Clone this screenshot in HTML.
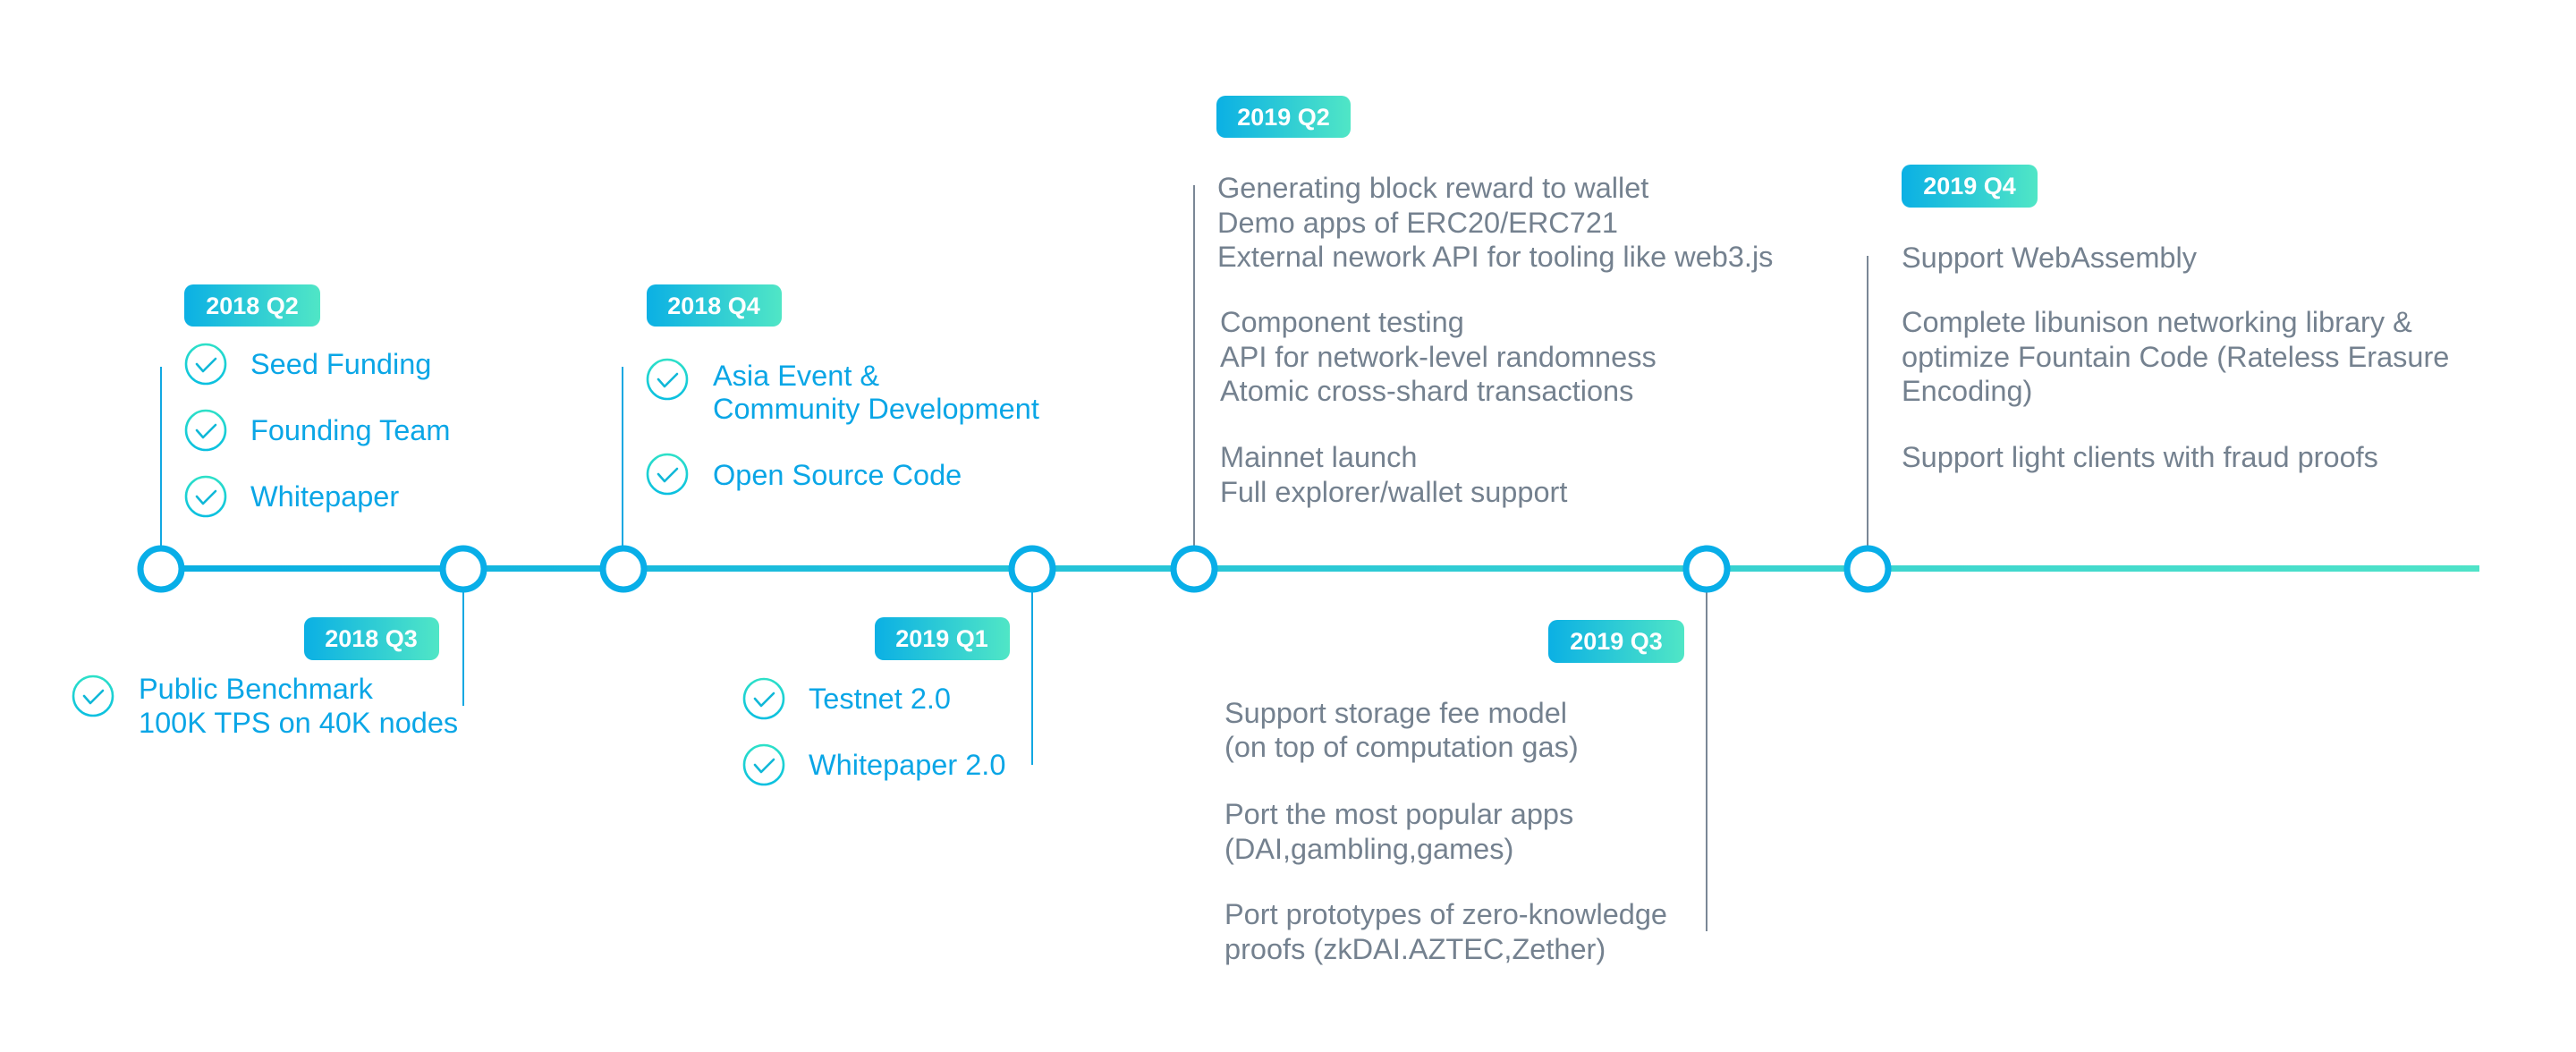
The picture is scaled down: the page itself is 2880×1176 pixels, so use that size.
<!DOCTYPE html>
<html><head><meta charset="utf-8"><style>
html,body{margin:0;padding:0;background:#fff;}
svg{display:block}
.b{font-family:"Liberation Sans",sans-serif;font-size:32.5px;fill:#0aa6e6;}
.g{font-family:"Liberation Sans",sans-serif;font-size:32.5px;fill:#74818f;}
.t{font-family:"Liberation Sans",sans-serif;font-size:27px;font-weight:bold;fill:#fff;}
</style></head><body>
<svg width="2880" height="1176" viewBox="0 0 2880 1176" xmlns="http://www.w3.org/2000/svg">
<defs>
<linearGradient id="lg" x1="156" y1="0" x2="2772" y2="0" gradientUnits="userSpaceOnUse">
<stop offset="0" stop-color="#08aee3"/><stop offset="1" stop-color="#4fe3c8"/></linearGradient>
<linearGradient id="bg" x1="0" y1="0" x2="1" y2="0">
<stop offset="0" stop-color="#0bb0e4"/><stop offset="1" stop-color="#50e6c6"/></linearGradient>
<linearGradient id="cg" x1="0" y1="0" x2="0" y2="1">
<stop offset="0" stop-color="#2de0c8"/><stop offset="1" stop-color="#0bc0e0"/></linearGradient>
<g id="ck"><circle r="22" fill="none" stroke="url(#cg)" stroke-width="2.6"/><path d="M-10 0 L-3 8 L11 -6" fill="none" stroke="#10b8d8" stroke-width="2.6" stroke-linecap="round" stroke-linejoin="round"/></g>
</defs>
<rect x="156" y="632" width="2616" height="7" fill="url(#lg)"/>
<g stroke="#12a8e2" stroke-width="2">
<line x1="180" y1="410" x2="180" y2="612"/>
<line x1="696" y1="410" x2="696" y2="612"/>
<line x1="518" y1="660" x2="518" y2="789"/>
<line x1="1154" y1="660" x2="1154" y2="855"/>
</g>
<g stroke="#7a8796" stroke-width="2">
<line x1="1335" y1="207" x2="1335" y2="612"/>
<line x1="1908" y1="660" x2="1908" y2="1041"/>
<line x1="2088" y1="286" x2="2088" y2="612"/>
</g>
<g fill="#fff" stroke="#08aee8" stroke-width="7">
<circle cx="180" cy="636" r="23"/><circle cx="518" cy="636" r="23"/><circle cx="697" cy="636" r="23"/>
<circle cx="1154" cy="636" r="23"/><circle cx="1335" cy="636" r="23"/><circle cx="1908" cy="636" r="23"/><circle cx="2088" cy="636" r="23"/>
</g>
<rect x="206" y="318" width="152" height="47" rx="10" fill="url(#bg)"/><text class="t" x="282" y="351" text-anchor="middle">2018 Q2</text>
<rect x="723" y="318" width="151" height="47" rx="10" fill="url(#bg)"/><text class="t" x="798" y="351" text-anchor="middle">2018 Q4</text>
<rect x="340" y="690" width="151" height="48" rx="10" fill="url(#bg)"/><text class="t" x="415" y="723" text-anchor="middle">2018 Q3</text>
<rect x="978" y="690" width="151" height="48" rx="10" fill="url(#bg)"/><text class="t" x="1053" y="723" text-anchor="middle">2019 Q1</text>
<rect x="1360" y="107" width="150" height="47" rx="10" fill="url(#bg)"/><text class="t" x="1435" y="140" text-anchor="middle">2019 Q2</text>
<rect x="2126" y="184" width="152" height="48" rx="10" fill="url(#bg)"/><text class="t" x="2202" y="217" text-anchor="middle">2019 Q4</text>
<rect x="1731" y="693" width="152" height="48" rx="10" fill="url(#bg)"/><text class="t" x="1807" y="726" text-anchor="middle">2019 Q3</text>
<use href="#ck" x="230" y="407"/><text class="b" x="280" y="418">Seed Funding</text>
<use href="#ck" x="230" y="481"/><text class="b" x="280" y="492">Founding Team</text>
<use href="#ck" x="230" y="555"/><text class="b" x="280" y="566">Whitepaper</text>
<use href="#ck" x="746" y="424"/><text class="b" x="797" y="431">Asia Event &amp;</text><text class="b" x="797" y="468">Community Development</text>
<use href="#ck" x="746" y="530"/><text class="b" x="797" y="542">Open Source Code</text>
<use href="#ck" x="104" y="778"/><text class="b" x="155" y="781">Public Benchmark</text><text class="b" x="155" y="819">100K TPS on 40K nodes</text>
<use href="#ck" x="854" y="781"/><text class="b" x="904" y="792">Testnet 2.0</text>
<use href="#ck" x="854" y="855"/><text class="b" x="904" y="866">Whitepaper 2.0</text>
<g class="g">
<text x="1361" y="221">Generating block reward to wallet</text>
<text x="1361" y="260">Demo apps of ERC20/ERC721</text>
<text x="1361" y="298">External nework API for tooling like web3.js</text>
<text x="1364" y="371">Component testing</text>
<text x="1364" y="410">API for network-level randomness</text>
<text x="1364" y="448">Atomic cross-shard transactions</text>
<text x="1364" y="522">Mainnet launch</text>
<text x="1364" y="561">Full explorer/wallet support</text>
<text x="2126" y="299">Support WebAssembly</text>
<text x="2126" y="371">Complete libunison networking library &amp;</text>
<text x="2126" y="410">optimize Fountain Code (Rateless Erasure</text>
<text x="2126" y="448">Encoding)</text>
<text x="2126" y="522">Support light clients with fraud proofs</text>
<text x="1369" y="808">Support storage fee model</text>
<text x="1369" y="846">(on top of computation gas)</text>
<text x="1369" y="921">Port the most popular apps</text>
<text x="1369" y="960">(DAI,gambling,games)</text>
<text x="1369" y="1033">Port prototypes of zero-knowledge</text>
<text x="1369" y="1072">proofs (zkDAI.AZTEC,Zether)</text>
</g>
</svg>
</body></html>
